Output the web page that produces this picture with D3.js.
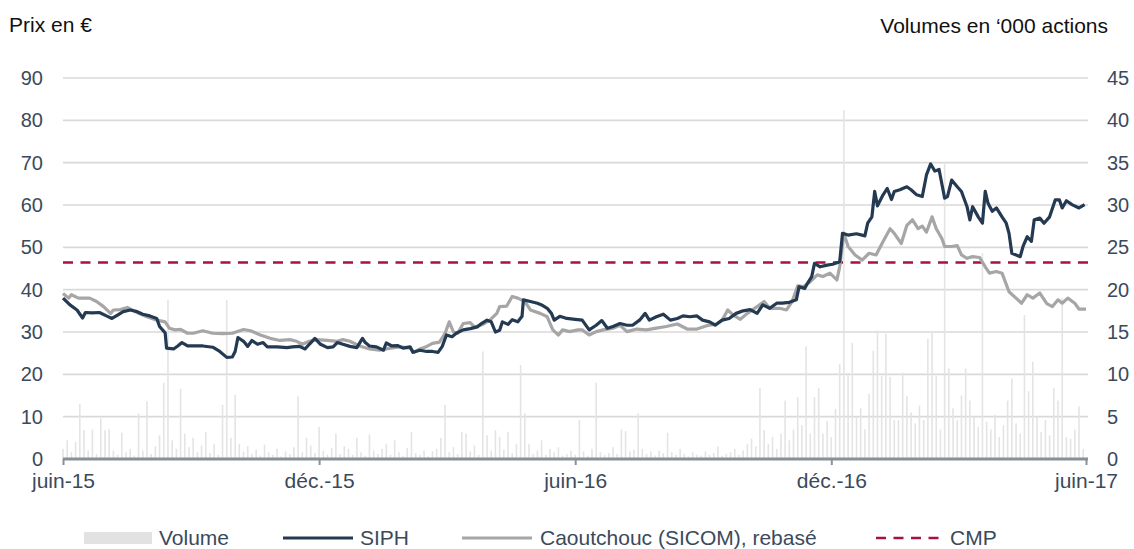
<!DOCTYPE html>
<html>
<head>
<meta charset="utf-8">
<script src="https://cdn.jsdelivr.net/npm/d3@7"></script>
<style>
  body { margin: 0; background: #fff; }
  text { font-family: "Liberation Sans", Arial, sans-serif; }
</style>
</head>
<body>
<div id="chart"></div>
<script>
// ---- data ----
const startDate = new Date(2015, 5, 1);
const endDate = new Date(2017, 5, 1);
const tickDates = [new Date(2015, 5, 1), new Date(2015, 11, 1), new Date(2016, 5, 1), new Date(2016, 11, 1), new Date(2017, 5, 1)];
const tickLabels = ["juin-15", "déc.-15", "juin-16", "déc.-16", "juin-17"];
const priceTicks = [0, 10, 20, 30, 40, 50, 60, 70, 80, 90];
const volumeTicks = [0, 5, 10, 15, 20, 25, 30, 35, 40, 45];
const cmpValue = 46.4;
const legendLabels = ["Volume", "SIPH", "Caoutchouc (SICOM), rebasé", "CMP"];

// volume ('000 actions), one value every 3 days from juin-15
const volumeStepDays = 3;
const volume = [
  1.2, 2.2, 0.8, 2.0, 6.5, 3.4, 1.0, 3.5, 0.6, 4.8, 3.4, 3.5, 1.0, 0.5, 3.1, 0.8, 1.2, 0.4, 5.4, 1.0,
  6.8, 0.6, 1.5, 2.8, 9.0, 18.8, 2.2, 1.2, 8.3, 3.0, 1.4, 2.5, 0.8, 1.6, 3.2, 0.7, 1.8, 0.5, 6.4, 18.8,
  2.5, 7.6, 1.8, 0.9, 1.5, 0.6, 1.1, 0.4, 1.7, 0.8, 0.5, 1.2, 0.3, 0.9, 0.6, 1.4, 7.4, 0.8, 2.5, 1.6,
  0.7, 3.8, 1.0, 0.5, 1.3, 3.0, 0.6, 1.5, 1.2, 0.5, 2.5, 0.8, 0.4, 2.9, 1.0, 0.6, 1.2, 1.8, 0.5, 2.2,
  0.8, 0.4, 1.3, 3.2, 0.7, 0.5, 1.0, 0.3, 0.9, 1.2, 2.5, 6.4, 0.8, 1.4, 0.6, 3.2, 3.0, 0.9, 1.6, 0.5,
  12.7, 2.8, 1.0, 3.4, 2.6, 1.1, 3.2, 0.7, 1.8, 11.1, 5.4, 1.8, 0.6, 1.0, 2.2, 0.5, 1.2, 0.8, 1.4, 0.4,
  0.6, 1.0, 0.5, 4.6, 0.9, 0.4, 1.2, 9.0, 0.8, 0.5, 0.7, 1.4, 0.6, 3.5, 3.3, 0.9, 1.1, 5.4, 1.2, 0.6,
  0.9, 0.4, 1.0, 0.7, 3.1, 0.8, 0.5, 1.2, 0.6, 0.3, 0.8, 0.5, 0.4, 0.9, 0.5, 0.7, 1.5, 0.4, 0.6, 0.8,
  1.2, 0.5, 1.0, 1.8, 2.4, 1.5, 8.4, 3.4, 1.8, 2.6, 1.2, 3.0, 6.9, 2.2, 3.5, 7.3, 4.0, 13.3, 3.0, 7.3,
  8.4, 3.0, 4.5, 2.6, 5.9, 11.2, 41.2, 10.2, 13.7, 5.0, 6.0, 3.5, 7.7, 12.8, 15.2, 9.8, 14.8, 9.7, 4.6, 4.6,
  10.2, 7.4, 5.5, 4.2, 6.3, 4.6, 14.2, 15.0, 9.8, 3.5, 35.0, 10.7, 6.0, 4.6, 7.5, 10.7, 6.9, 5.0, 3.8, 24.3,
  4.4, 3.5, 5.2, 2.6, 4.0, 6.9, 9.5, 4.2, 3.0, 17.0, 8.0, 11.5, 5.0, 3.2, 4.6, 2.8, 8.4, 6.9, 19.0, 2.6,
  2.4, 3.5, 6.2, 1.2
];

// SIPH share price (€), days counted from juin-15
const siphDays = [0, 5, 10, 14, 16, 21, 26, 31, 35, 39, 43, 48, 53, 57, 62, 67, 69, 73, 74, 79, 82, 85, 89, 93, 100, 107, 112, 117, 121, 123,
  125, 129, 132, 135, 139, 143, 146, 153, 160, 164, 169, 173, 176, 180, 184, 189, 193, 196, 200, 205, 210, 214, 216, 219, 224, 229, 231, 235, 239, 243,
  248, 250, 255, 260, 264, 268, 271, 274, 278, 281, 286, 291, 296, 299, 303, 306, 309, 312, 314, 318, 321, 325, 328, 329, 334, 339, 342, 346, 349, 351,
  355, 360, 366, 371, 376, 381, 385, 389, 393, 398, 403, 407, 412, 416, 419, 424, 429, 434, 439, 443, 448, 453, 457, 462, 466, 471, 476, 481, 486, 491,
  496, 500, 505, 510, 514, 519, 524, 526, 530, 532, 535, 537, 541, 546, 550, 555, 557, 561, 567, 573, 575, 578, 580, 582, 586, 589, 592, 594, 598, 603,
  606, 610, 614, 617, 620, 623, 626, 630, 632, 635, 639, 642, 646, 648, 650, 654, 657, 659, 661, 664, 667, 671, 674, 676, 678, 684, 686, 689, 692, 694,
  698, 701, 705, 709, 712, 714, 717, 721, 726, 730];
const siphPrice = [38.0, 36.4, 35.2, 33.3, 34.6, 34.5, 34.6, 33.8, 33.2, 34.0, 34.8, 35.2, 34.8, 34.2, 33.8, 33.2, 31.3, 29.8, 26.2, 26.0, 26.7, 27.5, 26.7, 26.7, 26.7, 26.4, 25.4, 24.0, 24.1, 25.4,
  28.7, 27.8, 26.6, 28.0, 27.1, 27.5, 26.5, 26.5, 26.3, 26.5, 26.6, 26.0, 27.1, 28.5, 27.1, 26.3, 26.5, 27.5, 27.1, 26.6, 26.3, 28.5, 27.5, 26.7, 26.5, 25.7, 27.4, 26.7, 26.8, 26.2,
  26.5, 25.2, 25.7, 25.4, 25.4, 25.2, 26.6, 29.3, 28.9, 29.7, 30.5, 30.8, 31.2, 32.0, 32.8, 32.4, 30.0, 30.4, 32.4, 31.8, 32.9, 32.4, 33.7, 37.6, 37.2, 36.8, 36.4, 35.6, 34.4, 32.8,
  33.7, 33.2, 33.0, 32.8, 30.5, 31.6, 32.7, 30.9, 31.3, 32.0, 31.6, 31.6, 32.8, 34.4, 32.8, 33.6, 34.2, 32.8, 33.2, 33.8, 33.6, 33.8, 32.8, 32.4, 31.6, 32.8, 33.2, 34.4, 35.0, 35.3,
  34.4, 36.4, 35.6, 36.8, 36.8, 37.0, 37.6, 40.7, 40.3, 41.5, 43.1, 46.2, 45.4, 45.8, 46.0, 46.6, 53.3, 52.9, 53.2, 52.7, 55.7, 57.2, 63.2, 59.8, 62.4, 63.9, 61.3, 63.2, 63.6, 64.3,
  63.6, 62.4, 62.0, 67.1, 69.7, 68.0, 68.4, 61.6, 62.0, 65.9, 64.3, 63.2, 59.6, 56.5, 59.6, 57.2, 55.7, 63.2, 60.4, 58.5, 59.3, 57.2, 55.7, 53.3, 48.6, 47.8, 50.2, 52.5, 51.4, 56.5,
  56.9, 55.7, 57.2, 61.2, 61.2, 59.3, 61.0, 60.1, 59.3, 60.1];

// Caoutchouc (SICOM) rebased, days counted from juin-15
const rubberDays = [0, 4, 6, 11, 19, 24, 29, 34, 36, 41, 46, 49, 54, 60, 67, 73, 76, 80, 84, 89, 93, 100, 107, 114, 121, 129, 134, 141, 148, 155,
  162, 167, 171, 176, 181, 189, 196, 200, 205, 212, 219, 226, 234, 241, 248, 251, 255, 260, 264, 269, 273, 276, 279, 282, 286, 291, 294, 300, 305, 310,
  312, 317, 321, 325, 330, 334, 341, 346, 350, 354, 357, 362, 368, 371, 376, 381, 386, 393, 398, 403, 410, 417, 424, 431, 439, 446, 453, 460, 467, 471,
  475, 479, 484, 489, 496, 501, 505, 512, 517, 521, 525, 529, 534, 539, 543, 548, 553, 555, 558, 561, 566, 571, 576, 581, 586, 591, 594, 599, 603, 607,
  611, 614, 617, 621, 624, 628, 630, 635, 639, 642, 646, 650, 655, 659, 662, 667, 671, 676, 681, 685, 689, 693, 698, 703, 707, 711, 714, 718, 723, 726, 731];
const rubberPrice = [39.1, 38.0, 38.8, 38.0, 38.0, 37.2, 36.0, 34.4, 35.2, 35.3, 35.8, 35.3, 34.4, 33.6, 32.8, 32.4, 30.9, 30.5, 30.6, 29.7, 29.7, 30.3, 29.7, 29.6, 29.7, 30.6, 30.3, 29.3, 28.5, 28.0,
  28.2, 27.8, 27.1, 27.8, 28.2, 28.0, 27.8, 28.2, 27.8, 26.7, 26.0, 25.7, 26.2, 26.5, 26.2, 25.2, 26.0, 26.6, 27.3, 27.6, 29.7, 32.4, 30.0, 29.7, 32.0, 32.2, 31.2, 31.8, 32.8, 34.4,
  36.0, 36.1, 38.4, 38.0, 37.2, 35.2, 34.4, 33.6, 30.5, 29.3, 30.5, 30.1, 30.5, 30.5, 29.3, 30.1, 30.5, 30.9, 31.6, 30.1, 30.7, 30.5, 30.9, 31.3, 31.9, 30.7, 30.7, 31.5, 31.9, 32.8,
  35.2, 34.0, 33.0, 34.4, 36.0, 37.2, 35.6, 35.6, 35.2, 37.2, 40.9, 40.7, 41.9, 43.5, 43.1, 43.9, 42.3, 45.4, 53.3, 50.2, 48.2, 47.0, 48.6, 48.2, 51.4, 54.4, 53.3, 50.9, 55.2, 56.5,
  54.4, 55.0, 53.6, 57.2, 54.4, 52.1, 50.2, 50.2, 50.4, 48.2, 47.4, 47.8, 47.6, 45.4, 43.9, 44.3, 43.9, 39.5, 38.0, 36.8, 38.8, 38.0, 39.2, 36.7, 36.0, 37.6, 36.8, 38.0, 36.8, 35.4, 35.4];

// ---- chart ----
const W = 1134, H = 549;
const plotLeft = 63, plotRight = 1088, plotTop = 78, plotBottom = 459;
const fontSize = "21px";
const tickFontSize = "20px";
const tickColor = "#3a4a5c";
const fontFam = '"Liberation Sans", Arial, sans-serif';

const svg = d3.select("#chart").append("svg")
  .attr("width", W)
  .attr("height", H);

const x = d3.scaleTime().domain([startDate, endDate]).range([plotLeft, 1086]);
const yPrice = d3.scaleLinear().domain([0, 90]).range([plotBottom, plotTop]);
const yVol = d3.scaleLinear().domain([0, 45]).range([plotBottom, plotTop]);
const dayToDate = d => d3.timeDay.offset(startDate, d);

// grid lines
svg.append("g").selectAll("line")
  .data(priceTicks.filter(t => t > 0))
  .join("line")
    .attr("x1", plotLeft)
    .attr("x2", plotRight)
    .attr("y1", d => yPrice(d))
    .attr("y2", d => yPrice(d))
    .attr("stroke", "#d9d9d9")
    .attr("stroke-width", 1.6);

// volume bars
svg.append("g").selectAll("rect")
  .data(volume)
  .join("rect")
    .attr("x", (d, i) => x(dayToDate(i * volumeStepDays)) - 0.8)
    .attr("y", d => yVol(d))
    .attr("width", 1.6)
    .attr("height", d => plotBottom - yVol(d))
    .attr("fill", "#e4e4e4");

// CMP line
svg.append("line")
  .attr("x1", plotLeft)
  .attr("x2", plotRight)
  .attr("y1", yPrice(cmpValue))
  .attr("y2", yPrice(cmpValue))
  .attr("stroke", "#a8123e")
  .attr("stroke-width", 2.5)
  .attr("stroke-dasharray", "10,7.5");

// price lines
const line = d3.line()
  .x(d => x(dayToDate(d[0])))
  .y(d => yPrice(d[1]));

svg.append("path")
  .datum(d3.zip(rubberDays, rubberPrice))
  .attr("d", line)
  .attr("fill", "none")
  .attr("stroke", "#a6a6a6")
  .attr("stroke-width", 3.2)
  .attr("stroke-linejoin", "round");

svg.append("path")
  .datum(d3.zip(siphDays, siphPrice))
  .attr("d", line)
  .attr("fill", "none")
  .attr("stroke", "#243a52")
  .attr("stroke-width", 3.2)
  .attr("stroke-linejoin", "round");

// x axis
const xAxis = svg.append("g")
  .attr("transform", `translate(0,${plotBottom})`)
  .call(d3.axisBottom(x).tickValues(tickDates).tickFormat((d, i) => tickLabels[i]).tickSize(6).tickPadding(8).tickSizeOuter(0));
xAxis.select(".domain").attr("stroke", "#8a9096").attr("stroke-width", 3)
  .attr("d", `M${plotLeft},0H${plotRight}`);
xAxis.selectAll(".tick line").attr("stroke", "#8a9096").attr("stroke-width", 2);
xAxis.selectAll(".tick text").attr("fill", tickColor).style("font-size", fontSize)
  .style("font-family", fontFam);

// left axis
const yAxisL = svg.append("g")
  .attr("transform", `translate(${plotLeft},0)`)
  .call(d3.axisLeft(yPrice).tickValues(priceTicks).tickSize(0).tickPadding(20));
yAxisL.select(".domain").remove();
yAxisL.selectAll("text").attr("fill", tickColor).style("font-size", tickFontSize)
  .style("font-family", fontFam);

// right axis
const yAxisR = svg.append("g")
  .attr("transform", `translate(${plotRight},0)`)
  .call(d3.axisRight(yVol).tickValues(volumeTicks).tickSize(0).tickPadding(19));
yAxisR.select(".domain").remove();
yAxisR.selectAll("text").attr("fill", tickColor).style("font-size", tickFontSize)
  .style("font-family", fontFam);

// axis titles
svg.append("text")
  .attr("x", 9)
  .attr("y", 32)
  .style("font-size", fontSize)
  .attr("fill", "#111")
  .text("Prix en €");

svg.append("text")
  .attr("x", 1108)
  .attr("y", 33)
  .attr("text-anchor", "end")
  .style("font-size", fontSize)
  .attr("fill", "#111")
  .text("Volumes en ‘000 actions");

// legend
const legendY = 538;
const legend = svg.append("g");
legend.append("rect")
  .attr("x", 84).attr("y", legendY - 6)
  .attr("width", 68).attr("height", 12)
  .attr("fill", "#e2e2e2");
legend.append("line")
  .attr("x1", 283).attr("x2", 353)
  .attr("y1", legendY).attr("y2", legendY)
  .attr("stroke", "#243a52").attr("stroke-width", 3.2);
legend.append("line")
  .attr("x1", 462).attr("x2", 532)
  .attr("y1", legendY).attr("y2", legendY)
  .attr("stroke", "#a6a6a6").attr("stroke-width", 3.2);
legend.append("line")
  .attr("x1", 876).attr("x2", 940)
  .attr("y1", legendY).attr("y2", legendY)
  .attr("stroke", "#a8123e").attr("stroke-width", 2.5)
  .attr("stroke-dasharray", "10,7.5");

const legendTextX = [159, 360, 540, 950];
legend.selectAll("text")
  .data(legendLabels)
  .join("text")
    .attr("x", (d, i) => legendTextX[i])
    .attr("y", legendY + 7)
    .style("font-size", fontSize)
    .attr("fill", tickColor)
    .text(d => d);
</script>
</body>
</html>
